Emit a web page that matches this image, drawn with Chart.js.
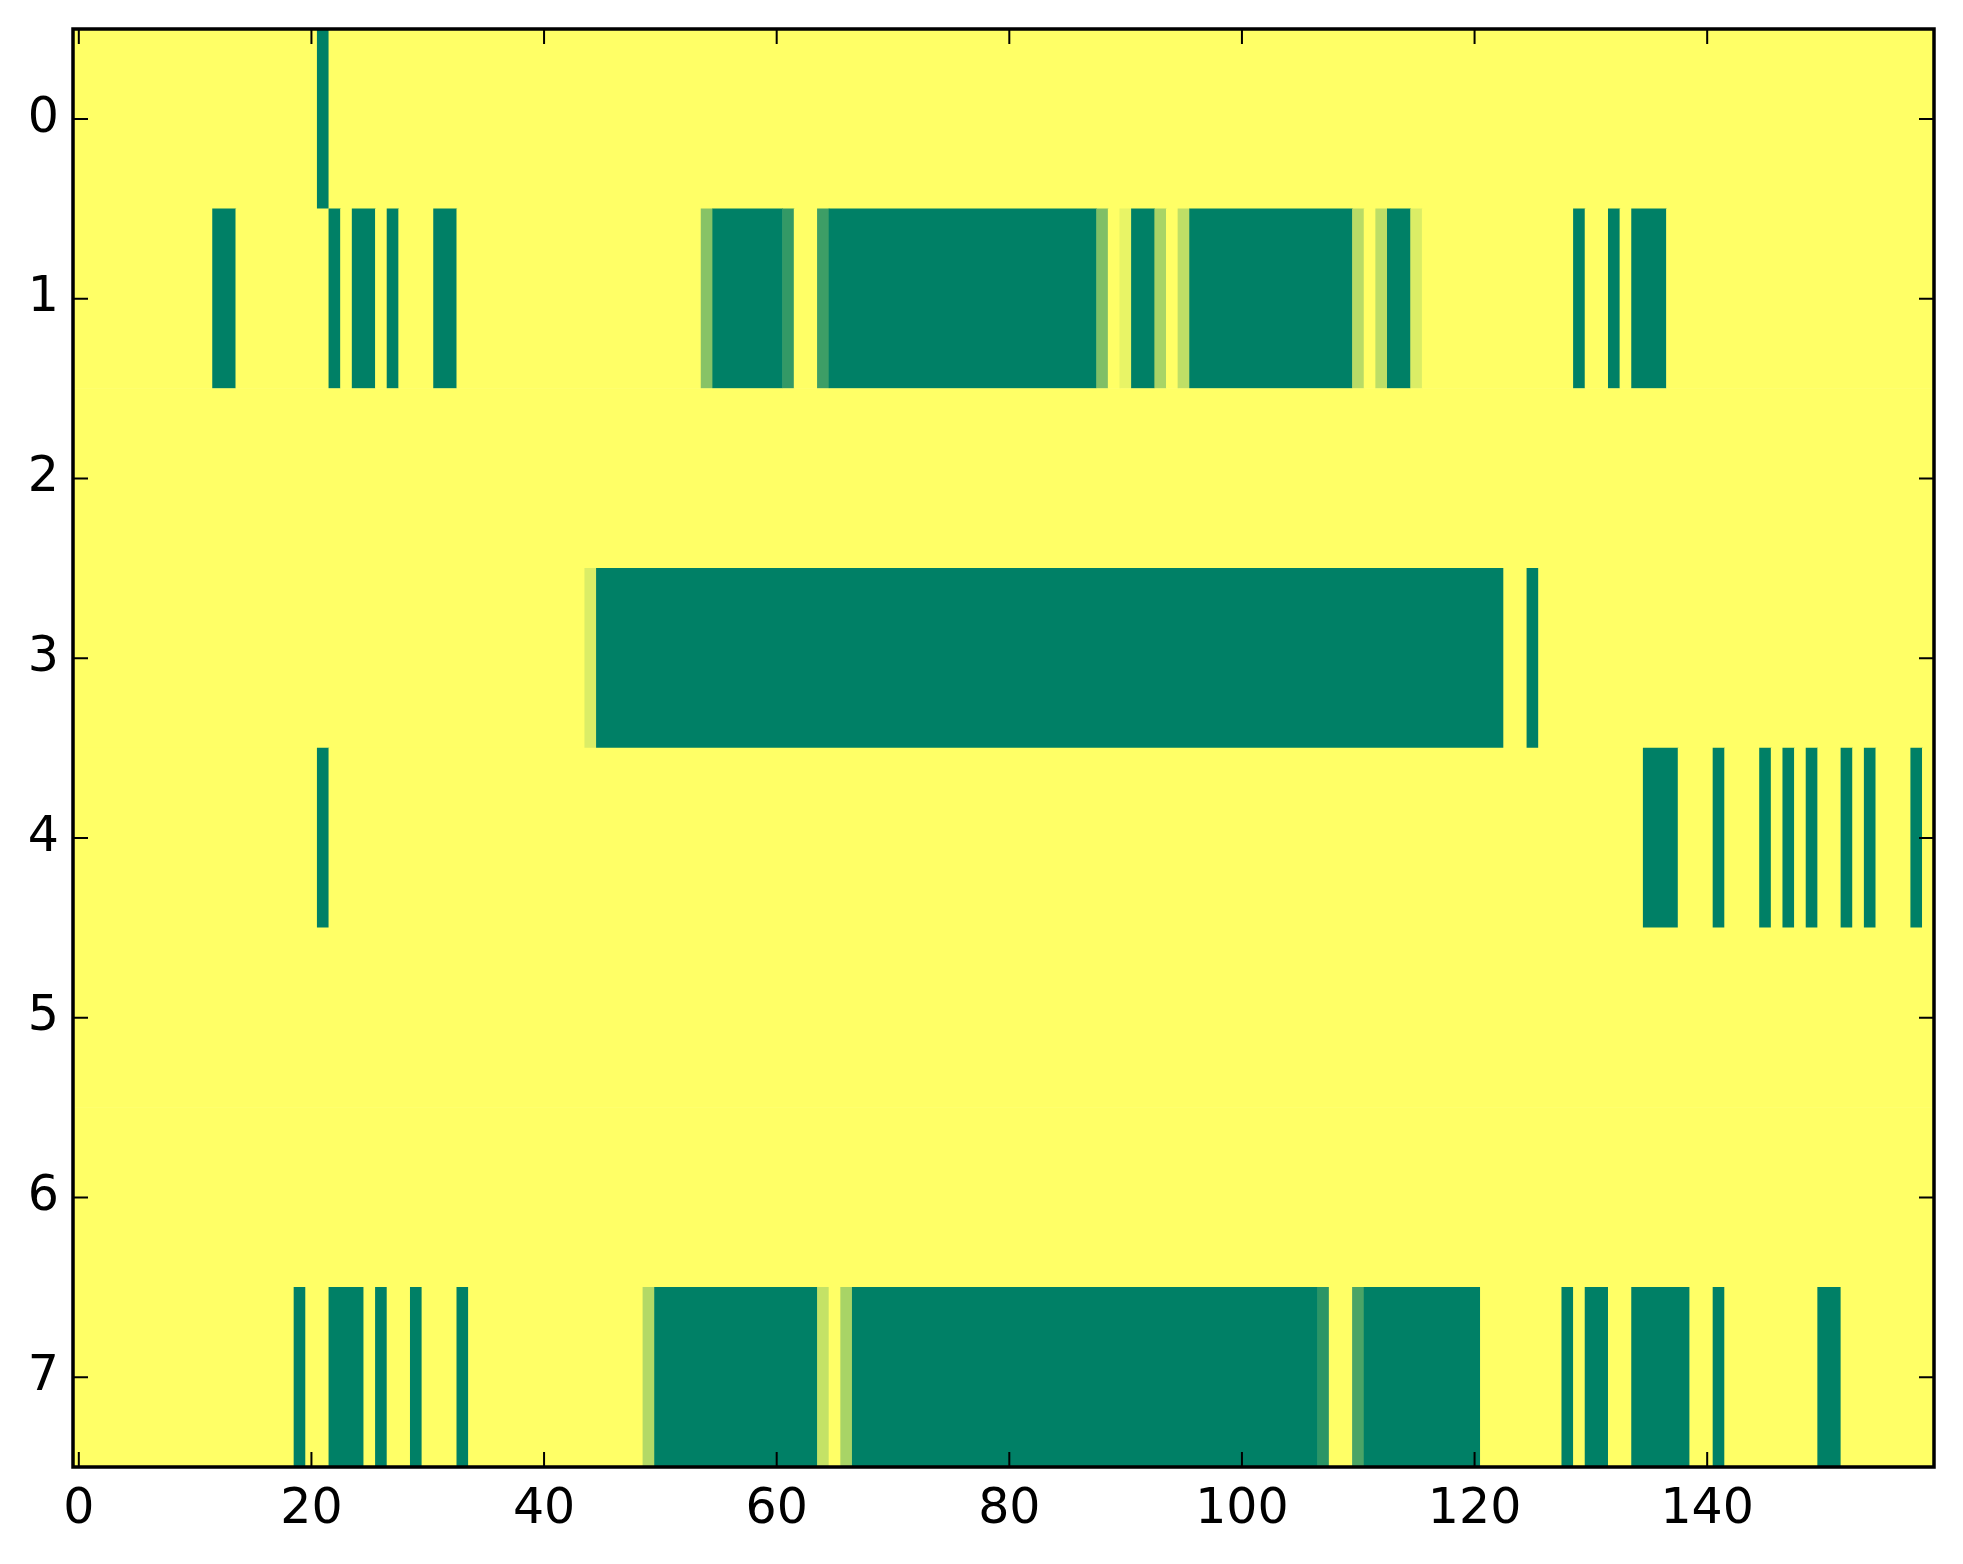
<!DOCTYPE html>
<html>
<head>
<meta charset="utf-8">
<script src="https://cdn.jsdelivr.net/npm/chart.js@4.4.1/dist/chart.umd.min.js"></script>
<style>
  html, body { margin: 0; padding: 0; background: #fff; }
  canvas { display: block; }
</style>
</head>
<body>
<canvas id="heatmap" width="1963" height="1564"></canvas>
<script>
const nCols = 160;
const rowTicks = [0, 1, 2, 3, 4, 5, 6, 7];
const xTicks = [0, 20, 40, 60, 80, 100, 120, 140];

// cell values per row, as runs: [first column, last column, value] (everything else is 0)
const row0 = [[21, 21, 1]];
const row1 = [[12, 13, 1], [22, 22, 1], [24, 25, 1], [27, 27, 1], [31, 32, 1],
  [54, 54, 0.47], [55, 60, 1], [61, 61, 0.8], [64, 64, 0.76], [65, 87, 1],
  [88, 88, 0.5], [90, 90, 0.09], [91, 92, 1], [93, 93, 0.34], [95, 95, 0.25],
  [96, 109, 1], [110, 110, 0.28], [112, 112, 0.26], [113, 114, 1], [115, 115, 0.14],
  [129, 129, 1], [132, 132, 1], [134, 136, 1]];
const row2 = [];
const row3 = [[44, 44, 0.14], [45, 122, 1], [125, 125, 1]];
const row4 = [[21, 21, 1], [135, 137, 1], [141, 141, 1], [145, 145, 1], [147, 147, 1],
  [149, 149, 1], [152, 152, 1], [154, 154, 1], [158, 158, 1]];
const row5 = [];
const row6 = [];
const row7 = [[19, 19, 1], [22, 24, 1], [26, 26, 1], [29, 29, 1], [33, 33, 1],
  [49, 49, 0.3], [50, 63, 1], [64, 64, 0.23], [66, 66, 0.34], [67, 106, 1],
  [107, 107, 0.83], [110, 110, 0.71], [111, 120, 1], [128, 128, 1], [130, 131, 1],
  [134, 138, 1], [141, 141, 1], [150, 151, 1]];

const rows = [row0, row1, row2, row3, row4, row5, row6, row7];

// matplotlib "summer_r"
function summerR(v) {
  const r = Math.round(255 * (1 - v));
  const g = Math.round(255 * (1 - v / 2));
  return `rgb(${r},${g},102)`;
}

// full grid, then equal neighbours merged into one bar each (no seams)
const grid = rows.map(segs => {
  const line = new Array(nCols).fill(0);
  segs.forEach(([a, b, v]) => { for (let c = a; c <= b; c++) line[c] = v; });
  return line;
});

const cells = [];
grid.forEach((line, r) => {
  let start = 0;
  for (let c = 1; c <= nCols; c++) {
    if (c === nCols || line[c] !== line[start]) {
      cells.push({ x: [start - 0.5, c - 0.5], y: r, v: line[start] });
      start = c;
    }
  }
});

const tickFont = { family: "DejaVu Sans", size: 49 };

// box round the image and inward ticks on all four sides
const framePlugin = {
  id: "frame",
  afterDraw(chart) {
    const { ctx, chartArea: a } = chart;
    const x = chart.scales.x, y = chart.scales.y;
    const len = 15;
    ctx.save();
    ctx.strokeStyle = "#000";
    ctx.lineWidth = 2;
    ctx.beginPath();
    xTicks.forEach(t => {
      const px = x.getPixelForValue(t);
      ctx.moveTo(px, a.bottom); ctx.lineTo(px, a.bottom - len);
      ctx.moveTo(px, a.top); ctx.lineTo(px, a.top + len);
    });
    rowTicks.forEach(t => {
      const py = y.getPixelForValue(t);
      ctx.moveTo(a.left, py); ctx.lineTo(a.left + len, py);
      ctx.moveTo(a.right, py); ctx.lineTo(a.right - len, py);
    });
    ctx.stroke();
    ctx.lineWidth = 3.5;
    ctx.strokeRect(a.left, a.top, a.right - a.left, a.bottom - a.top);
    ctx.restore();
  }
};

new Chart(document.getElementById("heatmap"), {
  type: "bar",
  data: {
    datasets: [{
      data: cells,
      backgroundColor: c => summerR(c.raw.v),
      borderWidth: 0,
      borderSkipped: false,
      categoryPercentage: 1,
      barPercentage: 1
    }]
  },
  options: {
    indexAxis: "y",
    responsive: false,
    devicePixelRatio: 1,
    animation: false,
    layout: { padding: { top: 29, right: 29, left: 0, bottom: 0 } },
    plugins: { legend: { display: false }, tooltip: { enabled: false } },
    scales: {
      x: {
        type: "linear",
        min: -0.5,
        max: nCols - 0.5,
        afterBuildTicks: s => { s.ticks = xTicks.map(v => ({ value: v })); },
        afterFit: s => { s.height = 97; s.paddingLeft = 0; s.paddingRight = 0; },
        grid: { display: false, drawTicks: false },
        border: { display: false },
        ticks: { font: tickFont, color: "#000", padding: 14, maxRotation: 0, autoSkip: false }
      },
      y: {
        type: "linear",
        reverse: true,
        offset: false,
        min: -0.5,
        max: 7.5,
        afterBuildTicks: s => { s.ticks = rowTicks.map(v => ({ value: v })); },
        afterFit: s => { s.width = 73; s.paddingTop = 0; s.paddingBottom = 0; },
        grid: { display: false, drawTicks: false },
        border: { display: false },
        ticks: { font: tickFont, color: "#000", padding: 14, autoSkip: false }
      }
    }
  },
  plugins: [framePlugin]
});
</script>
</body>
</html>
